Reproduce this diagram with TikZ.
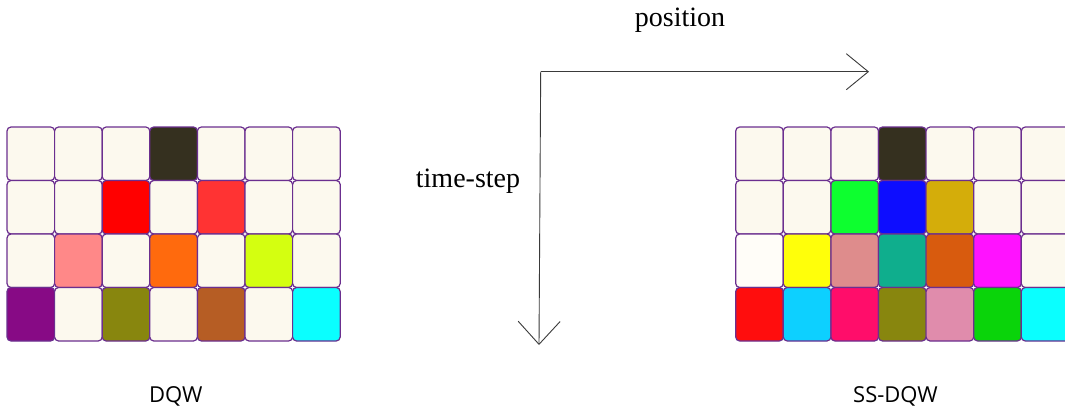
\documentclass[tikz,border=0pt]{standalone}
\usepackage{fontspec}
\setmainfont{Liberation Serif}
\newfontfamily\labelsans{Open Sans}
\usetikzlibrary{arrows.meta}
\definecolor{cream}{HTML}{FCF9EE}
\definecolor{offwhite}{HTML}{FFFDF8}
\definecolor{cellborder}{HTML}{6B2F8F}
\definecolor{axisgray}{HTML}{3A3A3A}
\definecolor{darkc}{HTML}{35301F}
\definecolor{redA}{HTML}{FF0000}
\definecolor{redB}{HTML}{FF3333}
\definecolor{pinkA}{HTML}{FF8888}
\definecolor{orangeA}{HTML}{FF6A0D}
\definecolor{limeA}{HTML}{D4FF10}
\definecolor{purpleA}{HTML}{870A85}
\definecolor{oliveA}{HTML}{88860E}
\definecolor{brownA}{HTML}{B65D24}
\definecolor{cyanA}{HTML}{0AFFFF}
\definecolor{greenB}{HTML}{0DFF2F}
\definecolor{blueB}{HTML}{0D0DFF}
\definecolor{goldB}{HTML}{D4AD0A}
\definecolor{yellowB}{HTML}{FFFF0A}
\definecolor{roseB}{HTML}{DE8C8C}
\definecolor{tealB}{HTML}{0FAE8D}
\definecolor{orangeB}{HTML}{D85B0E}
\definecolor{magentaB}{HTML}{FF12FF}
\definecolor{redC}{HTML}{FF0D0D}
\definecolor{skyC}{HTML}{0DD0FF}
\definecolor{pinkC}{HTML}{FF0D6A}
\definecolor{mauveC}{HTML}{E08CAC}
\definecolor{greenC}{HTML}{0AD40A}
\begin{document}
\begin{tikzpicture}[x=1pt,y=-1pt,
  cell/.style={draw=cellborder, line width=1.2pt, rounded corners=4pt,
    minimum width=47.6pt, minimum height=53.5pt, inner sep=0pt, outer sep=0pt},
  axis/.style={draw=axisgray, line width=0.9pt},
  serifl/.style={font=\fontsize{28}{32}\selectfont, inner sep=0pt, anchor=base},
  sansl/.style={font=\labelsans\fontsize{22}{26}\selectfont, inner sep=0pt, anchor=base west}]
\useasboundingbox (0,0) rectangle (1065,412);
\clip (0,0) rectangle (1065,412);
\fill[white] (0,0) rectangle (1065,412);
% left grid (DQW)
\foreach \col [count=\i from 0] in {
  cream,cream,cream,darkc,cream,cream,cream,
  cream,cream,redA,cream,redB,cream,cream,
  cream,pinkA,cream,orangeA,cream,limeA,cream,
  purpleA,cream,oliveA,cream,brownA,cream,cyanA}{
  \pgfmathtruncatemacro\r{int(\i/7)}
  \pgfmathtruncatemacro\c{mod(\i,7)}
  \node[cell, fill=\col] (L\r\c) at ({7+47.6*(\c+0.5)},{127+53.5*(\r+0.5)}) {};
}
% right grid (SS-DQW)
\foreach \col [count=\i from 0] in {
  cream,cream,cream,darkc,cream,cream,cream,
  cream,cream,greenB,blueB,goldB,cream,cream,
  offwhite,yellowB,roseB,tealB,orangeB,magentaB,cream,
  redC,skyC,pinkC,oliveA,mauveC,greenC,cyanA}{
  \pgfmathtruncatemacro\r{int(\i/7)}
  \pgfmathtruncatemacro\c{mod(\i,7)}
  \node[cell, fill=\col] (R\r\c) at ({735.7+47.6*(\c+0.5)},{127+53.5*(\r+0.5)}) {};
}
% axes
\coordinate (corner) at (540.7,71.7);
\coordinate (posend) at (869,71.7);
\coordinate (timeend) at (539,345);
\draw[axis, -{Straight Barb[length=22pt,width=36pt]}] (corner) -- (posend);
\draw[axis, -{Straight Barb[length=23pt,width=42pt]}] (corner) -- (timeend);
\node[serifl] (poslabel) at (680,27) {position};
\node[serifl] (timelabel) at (468,187) {time-step};
\node[sansl] (dqw) at (149,402) {DQW};
\node[sansl] (ssdqw) at (853,402) {SS-DQW};
\end{tikzpicture}
\end{document}
